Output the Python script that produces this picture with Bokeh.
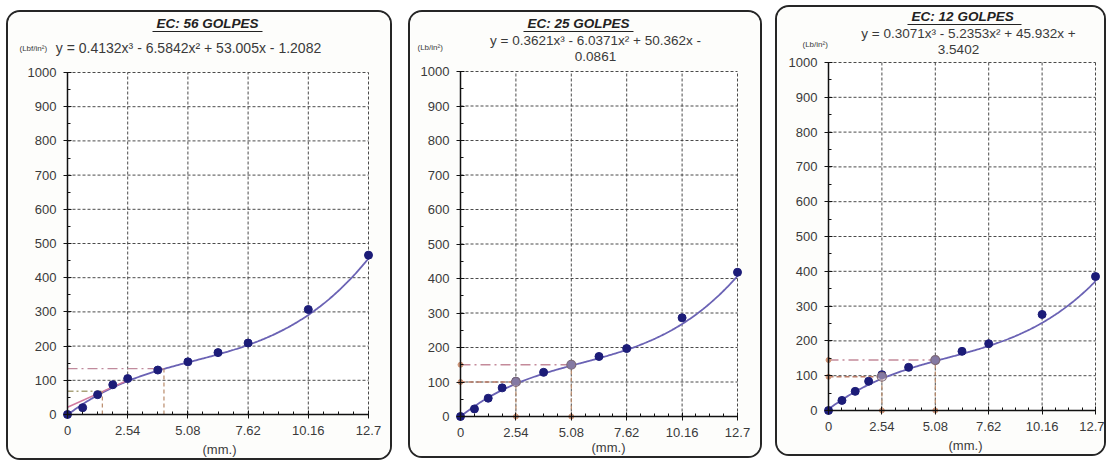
import numpy as np
from bokeh.plotting import figure
from bokeh.layouts import row
from bokeh.models import FixedTicker, Label, Arrow, Range1d, LinearAxis
from bokeh.embed import file_html
from bokeh.resources import INLINE

# ---------------- data ----------------
PEN_MM = [0, 0.64, 1.27, 1.91, 2.54, 3.81, 5.08, 6.35, 7.62, 10.16, 12.7]
LOAD_56 = [0, 20, 58, 87, 105, 130, 154, 181, 209, 307, 466]
LOAD_25 = [0, 22, 53, 83, 102, 128, 150, 174, 197, 286, 418]
LOAD_12 = [0, 29, 55, 84, 103, 124, 145, 170, 192, 276, 385]

COEF_56 = [0.4132, -6.5842, 53.005, -1.2082]
COEF_25 = [0.3621, -6.0371, 50.362, -0.0861]
COEF_12 = [0.3071, -5.2353, 45.932, 3.5402]

TITLES = ["EC: 56 GOLPES", "EC: 25 GOLPES", "EC: 12  GOLPES"]
EQ_56 = ["y = 0.4132x³ - 6.5842x² + 53.005x - 1.2082"]
EQ_25 = ["y = 0.3621x³ - 6.0371x² + 50.362x -", "0.0861"]
EQ_12 = ["y = 0.3071x³ - 5.2353x² + 45.932x +", "3.5402"]
Y_UNITS = ["(Lbf/in²)", "(Lb/in²)", "(Lb/in²)"]
X_UNITS = "(mm.)"

X_MIN, X_MAX = 0, 12.7
Y_MIN, Y_MAX = 0, 1000
X_TICKS = [0, 2.54, 5.08, 7.62, 10.16, 12.7]
X_TICK_LABELS = ["0", "2.54", "5.08", "7.62", "10.16", "12.7"]
X_MINOR = [0.635 * i for i in range(21)]
Y_TICKS = list(range(0, 1001, 100))
Y_MINOR = list(range(0, 1001, 50))

# correction construction lines (penetration, load)
CORR_X_56 = [1.47, 4.07]
CORR_Y_56 = [68, 134]
TANG_X_56 = [0, 2.6]
TANG_Y_56 = [21, 102]
CORR_X_25 = [2.54, 5.08]
CORR_Y_25 = [100, 150]
CORR_X_12 = [2.54, 5.08]
CORR_Y_12 = [97, 145]

FONT = "Liberation Sans"
TXT = "#3a3a3a"
PT_COLOR = "#1c1c78"
CURVE_COLOR = "#6a62b4"
BW = 2  # card border width

# card geometry in page px; fl/fr/ft/fb = where the 0..12.7 / 0..1000 box sits
CARDS = [
    dict(x=6, y=10, w=386, h=450, fl=67, fr=368, ft=72, fb=414),
    dict(x=408, y=10, w=354, h=448, fl=460, fr=737, ft=71, fb=416),
    dict(x=775, y=5, w=331, h=451, fl=828, fr=1095, ft=62, fb=410),
]
# text anchors in page px
TITLE_POS = [(207, 23), (578, 23), (964, 16)]
TITLE_HALF = [55, 55, 57]
EQ_POS = [[(188, 47)], [(595, 40), (595, 56)], [(968, 33), (958, 49)]]
EQ_SIZE = ["14px", "13.5px", "13.5px"]
UNIT_POS = [(19, 48), (417, 47), (802, 44)]
MM_POS = [(219, 449), (608, 447), (965, 445)]


def make_panel(i, loads, coef, eq_lines, cx, cy, prev_right, tangent=None):
    c = CARDS[i]
    fl, fr, ft, fb = c["fl"], c["fr"], c["ft"], c["fb"]
    # the canvas keeps its full size and starts inside the border
    cl, cr = c["x"] + BW, c["x"] + BW + c["w"]
    ct, cb = c["y"] + BW, c["y"] + BW + c["h"]

    def dx(px):
        return X_MIN + (px - fl) / (fr - fl) * (X_MAX - X_MIN)

    def dy(py):
        return Y_MIN + (fb - py) / (fb - ft) * (Y_MAX - Y_MIN)

    p = figure(width=c["w"], height=c["h"], output_backend="svg",
               toolbar_location=None,
               x_range=Range1d(dx(cl), dx(cr)), y_range=Range1d(dy(cb), dy(ct)),
               x_axis_location=None, y_axis_location=None,
               min_border=0, background_fill_color="#fdfdfb",
               border_fill_color="#fdfdfb", outline_line_color=None)
    p.styles = {"border": f"{BW}px solid #262626", "border-radius": "14px",
                "overflow": "hidden", "box-sizing": "border-box"}
    p.margin = (c["y"], 0, 0, c["x"] - prev_right)
    p.grid.visible = False

    # plot-area background
    p.quad(left=[X_MIN], right=[X_MAX], bottom=[Y_MIN], top=[Y_MAX],
           fill_color="white", line_color=None)

    # dashed grid (including the top/right edges of the box)
    p.multi_line([[t, t] for t in X_TICKS], [[Y_MIN, Y_MAX]] * len(X_TICKS),
                 line_color="#4a4a4a", line_dash="3 2", line_width=1)
    p.multi_line([[X_MIN, X_MAX]] * len(Y_TICKS), [[t, t] for t in Y_TICKS],
                 line_color="#4a4a4a", line_dash="3 2", line_width=1)

    xa = LinearAxis(fixed_location=Y_MIN, bounds=(X_MIN, X_MAX),
                    ticker=FixedTicker(ticks=X_TICKS, minor_ticks=X_MINOR))
    xa.major_label_overrides = {t: l for t, l in zip(X_TICKS, X_TICK_LABELS)}
    ya = LinearAxis(fixed_location=X_MIN, bounds=(Y_MIN, Y_MAX),
                    ticker=FixedTicker(ticks=Y_TICKS, minor_ticks=Y_MINOR))
    for ax in (xa, ya):
        ax.axis_line_color = "#111"
        ax.axis_line_width = 1.5
        ax.major_tick_line_color = "#111"
        ax.minor_tick_line_color = "#111"
        ax.major_tick_in = 4
        ax.major_tick_out = 4
        ax.minor_tick_in = 3
        ax.minor_tick_out = 0
        ax.major_label_text_font = FONT
        ax.major_label_text_font_size = "13px"
        ax.major_label_text_color = TXT
        ax.major_label_standoff = 7
    p.add_layout(xa, "below")
    p.add_layout(ya, "left")

    # trendline from the displayed cubic
    xf = np.linspace(X_MIN, X_MAX, 200)
    yf = np.polyval(coef, xf)
    p.line(xf, yf, line_color=CURVE_COLOR, line_width=1.8)

    # construction lines
    if tangent is not None:
        p.line(tangent[0], tangent[1], line_color="#d07aa0", line_width=1.6)
    hcols = ["#a9a27a", "#c08a9c"] if i == 0 else ["#b87a66", "#c48a9a"]
    hdash = ["6 3 2 3", "10 4 2 4"] if i == 0 else ["5 3", "10 4 2 4"]
    for k, (xx, yy) in enumerate(zip(cx, cy)):
        p.line([0, xx], [yy, yy], line_color=hcols[k], line_width=1.4,
               line_dash=hdash[k])
        p.line([xx, xx], [0, yy], line_color="#b98a6a", line_width=1.2,
               line_dash="4 3")
    if i > 0:
        p.scatter([0] * len(cy), cy, size=5, color="#d09678")
        p.scatter(cx, [0] * len(cx), size=5, color="#d09678")

    p.scatter(PEN_MM, loads, size=8, color=PT_COLOR)
    if i > 0:
        p.scatter(cx, cy, size=9, fill_color="#c9b7c0", fill_alpha=0.6,
                  line_color="#7d6a78", line_width=1.2)

    # texts
    tpx, tpy = TITLE_POS[i]
    p.add_layout(Label(x=dx(tpx), y=dy(tpy), text=TITLES[i], text_font=FONT,
                       text_font_size="13.5px", text_font_style="bold italic",
                       text_color="#222", text_align="center",
                       text_baseline="middle"))
    hw = TITLE_HALF[i]
    p.add_layout(Arrow(end=None, x_start=dx(tpx - hw), y_start=dy(tpy + 8),
                       x_end=dx(tpx + hw), y_end=dy(tpy + 8),
                       line_color="#222", line_width=1))

    for line_txt, (ex, ey) in zip(eq_lines, EQ_POS[i]):
        p.add_layout(Label(x=dx(ex), y=dy(ey), text=line_txt, text_font=FONT,
                           text_font_size=EQ_SIZE[i], text_color=TXT,
                           text_align="center", text_baseline="middle"))

    upx, upy = UNIT_POS[i]
    p.add_layout(Label(x=dx(upx), y=dy(upy), text=Y_UNITS[i], text_font=FONT,
                       text_font_size="8px", text_color=TXT,
                       text_align="left", text_baseline="middle"))

    mpx, mpy = MM_POS[i]
    p.add_layout(Label(x=dx(mpx), y=dy(mpy), text=X_UNITS, text_font=FONT,
                       text_font_size="13px", text_color=TXT,
                       text_align="center", text_baseline="middle"))
    return p


p1 = make_panel(0, LOAD_56, COEF_56, EQ_56, CORR_X_56, CORR_Y_56, 0,
                tangent=(TANG_X_56, TANG_Y_56))
p2 = make_panel(1, LOAD_25, COEF_25, EQ_25, CORR_X_25, CORR_Y_25,
                CARDS[0]["x"] + CARDS[0]["w"])
p3 = make_panel(2, LOAD_12, COEF_12, EQ_12, CORR_X_12, CORR_Y_12,
                CARDS[1]["x"] + CARDS[1]["w"])

layout = row(p1, p2, p3, spacing=0)
open("out.html", "w").write(file_html(layout, INLINE))
